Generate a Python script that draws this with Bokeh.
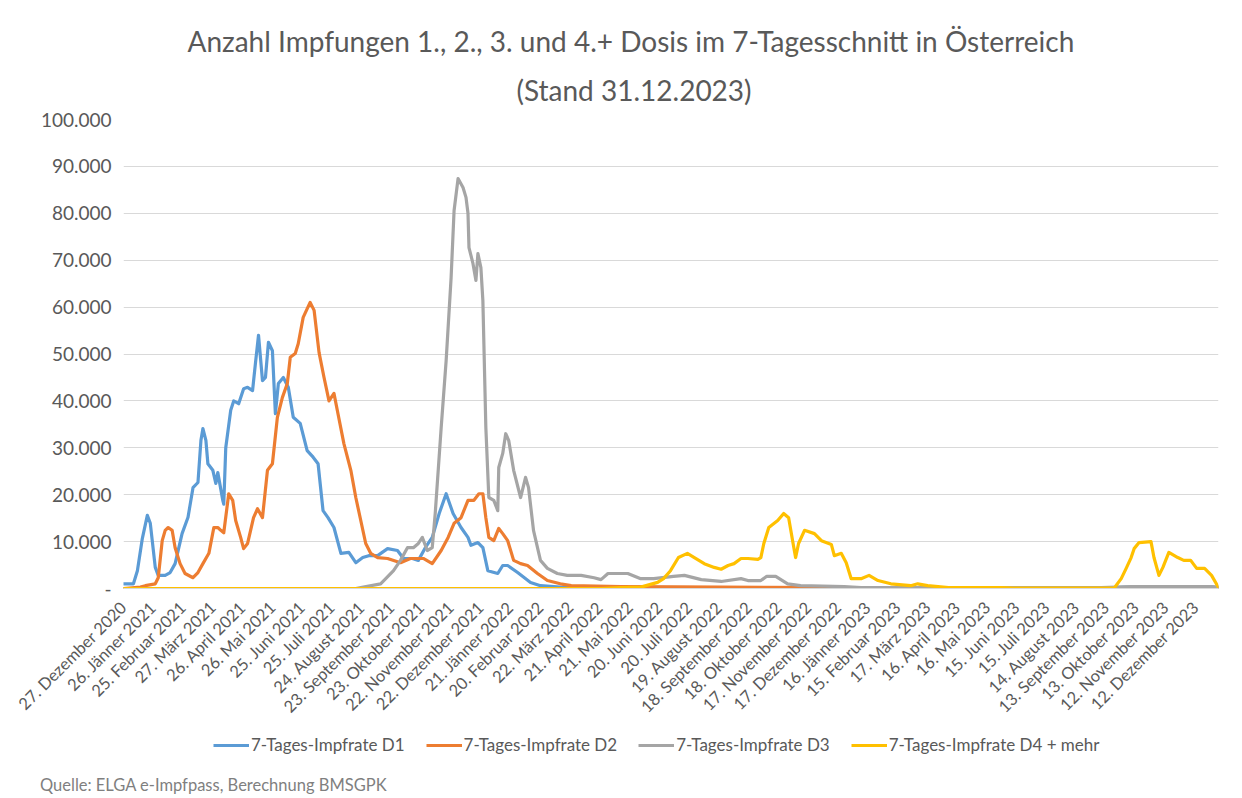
import numpy as np
from bokeh.plotting import figure
from bokeh.layouts import column
from bokeh.models import Range1d, FixedTicker, Title, Legend, LegendItem, Div
from bokeh.embed import file_html
from bokeh.resources import INLINE

# ---------------- data (days since 27.12.2020, 7-day average of doses) -------------
tick_labels = ["27. Dezember 2020", "26. Jänner 2021", "25. Februar 2021", "27. März 2021",
               "26. April 2021", "26. Mai 2021", "25. Juni 2021", "25. Juli 2021",
               "24. August 2021", "23. September 2021", "23. Oktober 2021", "22. November 2021",
               "22. Dezember 2021", "21. Jänner 2022", "20. Februar 2022", "22. März 2022",
               "21. April 2022", "21. Mai 2022", "20. Juni 2022", "20. Juli 2022",
               "19. August 2022", "18. September 2022", "18. Oktober 2022", "17. November 2022",
               "17. Dezember 2022", "16. Jänner 2023", "15. Februar 2023", "17. März 2023",
               "16. April 2023", "16. Mai 2023", "15. Juni 2023", "15. Juli 2023",
               "14. August 2023", "13. September 2023", "13. Oktober 2023", "12. November 2023",
               "12. Dezember 2023"]
tick_step_days = 30

d1_day = [0, 10, 14, 19, 24, 27, 32, 35, 42, 47, 52, 59, 65, 70, 75, 78, 80, 83, 85, 90, 93, 95,
          100, 101, 103, 108, 111, 116, 121, 125, 130, 133, 136, 140, 143, 146, 150, 153, 156,
          161, 166, 171, 178, 185, 191, 196, 201, 206, 212, 219, 227, 234, 241, 247, 256, 266,
          276, 282, 291, 297, 304, 311, 318, 325, 332, 340, 347, 350, 357, 362, 367, 377, 382,
          387, 397, 410, 420, 440, 582, 783, 985, 1010, 1096, 1103]
d1_val = [1000, 1000, 3800, 10700, 15600, 13900, 4500, 2800, 2800, 3400, 5300, 11700, 15200,
          21500, 22600, 31600, 34100, 31600, 26600, 25200, 22400, 24700, 18800, 18000, 30000,
          38000, 40000, 39400, 42600, 42900, 42200, 48200, 54000, 44300, 45000, 52500, 50700,
          37300, 43700, 45000, 42900, 36500, 35200, 29400, 28000, 26600, 16600, 15100, 13000,
          7500, 7700, 5500, 6600, 7000, 7000, 8500, 8100, 6400, 6400, 6000, 8700, 10900, 16000,
          20200, 16000, 13000, 10900, 9200, 9800, 8700, 3800, 3200, 4900, 4900, 3400, 1300, 600,
          300, 200, 100, 100, 300, 300, 200]

d2_day = [0, 17, 22, 32, 35, 39, 42, 45, 49, 52, 57, 62, 70, 75, 80, 86, 91, 95, 98, 101, 106,
          110, 113, 118, 121, 125, 131, 135, 140, 145, 150, 155, 160, 165, 168, 173, 176, 181,
          188, 192, 197, 202, 207, 212, 216, 222, 229, 234, 239, 244, 249, 256, 266, 279, 289,
          302, 311, 320, 327, 333, 340, 347, 353, 358, 362, 365, 368, 373, 378, 382, 387, 393,
          400, 407, 417, 427, 440, 451, 501, 602, 728, 733, 1103]
d2_val = [0, 300, 600, 1000, 2300, 10200, 12400, 13000, 12400, 8700, 5300, 3200, 2300, 3400,
          5300, 7500, 13000, 13000, 12400, 11900, 20200, 18800, 14500, 10900, 8500, 9600, 15100,
          17000, 15100, 25200, 26600, 36500, 40700, 43700, 49300, 50100, 52200, 57800, 61000,
          59300, 50300, 45000, 40000, 41600, 37300, 30900, 25200, 19400, 14500, 9600, 7500, 6600,
          6400, 5500, 6400, 6400, 5300, 8100, 10900, 13900, 15100, 18800, 18800, 20200, 20200,
          15100, 10900, 10200, 12800, 11700, 10200, 6000, 5300, 4900, 3200, 1700, 1000, 600, 400,
          300, 200, 0, 0]

d3_day = [0, 234, 239, 259, 272, 279, 286, 292, 297, 301, 306, 311, 314, 320, 325, 330, 333,
          337, 342, 345, 347, 348, 352, 355, 357, 360, 362, 365, 368, 373, 377, 378, 382, 385,
          388, 393, 400, 405, 408, 413, 420, 427, 437, 447, 461, 474, 481, 488, 508, 521, 534,
          554, 565, 582, 602, 622, 629, 642, 648, 657, 669, 682, 726, 743, 985, 1015, 1096, 1103]
d3_val = [0, 0, 200, 1000, 3800, 6000, 8700, 8700, 9600, 10900, 8100, 8700, 16000, 34300,
          48600, 66300, 80600, 87400, 85500, 83400, 80000, 72700, 69300, 65700, 71400, 68400,
          61400, 34300, 19400, 18800, 16600, 25800, 28800, 33000, 31600, 25200, 19400, 23700,
          21500, 12400, 6000, 4300, 3200, 2800, 2800, 2300, 1900, 3200, 3200, 2100, 2100, 2600,
          2800, 1900, 1500, 2100, 1700, 1700, 2600, 2600, 1000, 600, 400, 200, 200, 400, 400, 300]

d4_day = [0, 481, 501, 521, 538, 544, 551, 559, 568, 575, 585, 595, 602, 609, 615, 622, 629,
          639, 642, 645, 650, 659, 665, 670, 674, 677, 680, 686, 696, 703, 713, 716, 723, 728,
          733, 743, 751, 760, 773, 793, 800, 810, 831, 884, 897, 998, 1005, 1010, 1015, 1018,
          1023, 1035, 1038, 1043, 1047, 1053, 1062, 1068, 1075, 1081, 1089, 1096, 1103]
d4_val = [0, 0, 200, 300, 1300, 2100, 3800, 6600, 7500, 6600, 5300, 4500, 4100, 4900, 5300,
          6400, 6400, 6200, 6600, 9600, 13000, 14500, 16000, 15100, 10200, 6600, 9600, 12400,
          11700, 10200, 9400, 7000, 7500, 5500, 2100, 2100, 2800, 1700, 1000, 600, 1000, 600,
          200, 200, 100, 100, 2100, 4300, 6600, 8500, 9800, 10000, 6600, 2800, 4500, 7700, 6600,
          6000, 6000, 4300, 4300, 2800, 200]

series_names = ["7-Tages-Impfrate D1", "7-Tages-Impfrate D2", "7-Tages-Impfrate D3",
                "7-Tages-Impfrate D4 + mehr"]
series_colors = ["#5B9BD5", "#ED7D31", "#A5A5A5", "#FFC000"]

y_ticks = [0, 10000, 20000, 30000, 40000, 50000, 60000, 70000, 80000, 90000, 100000]
y_tick_labels = ["-", "10.000", "20.000", "30.000", "40.000", "50.000", "60.000", "70.000",
                 "80.000", "90.000", "100.000"]

title_line1 = "Anzahl Impfungen 1., 2., 3. und 4.+ Dosis im 7-Tagesschnitt in Österreich"
title_line2 = "(Stand 31.12.2023)"
source_text = "Quelle: ELGA e-Impfpass, Berechnung BMSGPK"

# ---------------- main chart -------------
FONT = "Lato"
TXT = "#595959"
TOTAL_W = 1238
STRIP_H = 45

p = figure(frame_width=1095, frame_height=469, output_backend="svg", toolbar_location=None,
           x_range=Range1d(0, max(d1_day)), y_range=Range1d(0, 100000),
           min_border_left=123, min_border_top=119, min_border_right=20,
           min_border_bottom=140, background_fill_color="white",
           border_fill_color="white", title=title_line1)
p.outline_line_color = None

# title: p.title is the upper line, the added Title sits next to the frame
p.title.align = "left"
p.title.offset = 64
p.title.text_font = FONT
p.title.text_font_size = "28px"
p.title.text_font_style = "normal"
p.title.text_color = TXT
p.title.standoff = 0
p.add_layout(Title(text=title_line2, align="left", offset=393, text_font=FONT,
                   text_font_size="28px", text_font_style="normal", text_color=TXT,
                   standoff=26), "above")

renderers = []
for xs, ys, c in zip([d1_day, d2_day, d3_day, d4_day], [d1_val, d2_val, d3_val, d4_val],
                     series_colors):
    r = p.line(xs, ys, line_color=c, line_width=3.2, line_join="round", line_cap="round")
    renderers.append(r)

p.xaxis.ticker = FixedTicker(ticks=[i * tick_step_days for i in range(len(tick_labels))])
p.xaxis.major_label_overrides = {i * tick_step_days: t for i, t in enumerate(tick_labels)}
p.xaxis.major_label_orientation = np.pi / 4
p.xaxis.major_tick_line_color = None
p.xaxis.minor_tick_line_color = None
p.xaxis.axis_line_color = "#D9D9D9"
p.xaxis.major_label_text_font = FONT
p.xaxis.major_label_text_font_size = "16.5px"
p.xaxis.major_label_text_color = TXT
p.xaxis.major_label_standoff = 10

p.yaxis.ticker = FixedTicker(ticks=y_ticks)
p.yaxis.major_label_overrides = {v: t for v, t in zip(y_ticks, y_tick_labels)}
p.yaxis.major_tick_line_color = None
p.yaxis.minor_tick_line_color = None
p.yaxis.axis_line_color = None
p.yaxis.major_label_text_font = FONT
p.yaxis.major_label_text_font_size = "19px"
p.yaxis.major_label_text_color = TXT
p.yaxis.major_label_standoff = 6

p.xgrid.grid_line_color = None
p.ygrid.grid_line_color = "#D9D9D9"
p.ygrid.grid_line_width = 1

# ---------------- legend strip -------------
p2 = figure(frame_width=TOTAL_W, frame_height=STRIP_H, output_backend="svg",
            toolbar_location=None, x_range=Range1d(0, TOTAL_W), y_range=Range1d(0, STRIP_H),
            x_axis_type=None, y_axis_type=None,
            min_border_left=0, min_border_right=0, min_border_top=0, min_border_bottom=0,
            background_fill_color="white", border_fill_color="white")
p2.outline_line_color = None
p2.grid.visible = False

# legend-only line renderers (a single NaN point, so nothing is drawn in the strip)
leg_renderers = [p2.line(x=[np.nan], y=[np.nan], line_color=c, line_width=3.2)
                 for c in series_colors]
legend = Legend(items=[LegendItem(label=n, renderers=[r])
                       for n, r in zip(series_names, leg_renderers)],
                orientation="horizontal", location=(213, 18), border_line_color=None,
                background_fill_alpha=0, label_text_font=FONT, label_text_font_size="17px",
                label_text_color=TXT, glyph_width=36, glyph_height=18, label_standoff=2,
                spacing=21, padding=2, margin=0)
p2.add_layout(legend, "center")

# ---------------- source line -------------
src = Div(text=source_text, width=600, height=25, margin=(0, 0, 0, 40),
          styles={"font-family": "Lato", "font-size": "16.5px", "color": "#7F7F7F",
                  "line-height": "25px", "white-space": "nowrap"})

open("out.html", "w").write(file_html(column(p, p2, src, spacing=0), INLINE))
